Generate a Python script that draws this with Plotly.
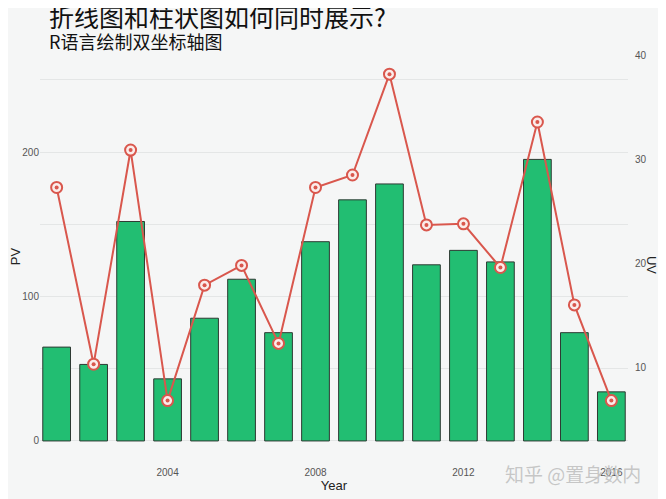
import plotly.graph_objects as go

# ---- data ----
years = [2001, 2002, 2003, 2004, 2005, 2006, 2007, 2008,
         2009, 2010, 2011, 2012, 2013, 2014, 2015, 2016]
pv = [65, 53, 152, 43, 85, 112, 75, 138, 167, 178, 122, 132, 124, 195, 75, 34]
uv = [27.3, 10.3, 30.9, 6.8, 17.9, 19.8, 12.3, 27.3, 28.5, 38.2, 23.7, 23.8,
      19.6, 33.6, 16.0, 6.8]
x_ticks = [2004, 2008, 2012, 2016]
pv_ticks = [0, 100, 200]
uv_ticks = [10, 20, 30, 40]

title_text = "折线图和柱状图如何同时展示?"
subtitle_text = "R语言绘制双坐标轴图"
watermark_text = "知乎 @置身数内"

# secondary-axis relation used in the original (PV = a*UV + b)
a, b = 7.2, -21.0
pv_range = [-12.5, 268]
uv_range = [(pv_range[0] - b) / a, (pv_range[1] - b) / a]

bar_color = "#22BE72"
red = "#D9574D"
bg = "#F5F6F6"
grid = "#E4E6E6"
tick_font = dict(family="Liberation Sans, Arial", size=10, color="#555555")
axis_title_font = dict(family="Liberation Sans, Arial", size=13, color="#222222")
cjk = "Noto Sans CJK SC"

fig = go.Figure()
fig.add_trace(go.Bar(
    x=years, y=pv, width=0.75, yaxis="y",
    marker=dict(color=bar_color, line=dict(color="#2E3A33", width=1)),
))
fig.add_trace(go.Scatter(
    x=years, y=uv, yaxis="y2", mode="lines+markers",
    line=dict(color=red, width=2),
    marker=dict(size=11, color="#FBECEA", line=dict(color=red, width=2)),
))
fig.add_trace(go.Scatter(
    x=years, y=uv, yaxis="y2", mode="markers",
    marker=dict(size=4, color=red),
))

fig.update_layout(
    width=666, height=499,
    paper_bgcolor=bg, plot_bgcolor=bg,
    margin=dict(l=32, r=46, t=46, b=48, autoexpand=False),
    showlegend=False,
    font=dict(family=cjk),
    xaxis=dict(
        range=[2000.55, 2016.45], tickvals=x_ticks,
        ticktext=[str(v) for v in x_ticks],
        showgrid=False, zeroline=False, showline=False, ticks="",
        tickfont=tick_font, ticklabelstandoff=6,
        title=dict(text="Year", font=axis_title_font, standoff=2),
        automargin=False,
    ),
    yaxis=dict(
        range=pv_range, tickvals=pv_ticks,
        showgrid=True, gridcolor=grid, gridwidth=1,
        minor=dict(tickvals=[50, 150, 250], showgrid=True, gridcolor=grid, gridwidth=1),
        zeroline=False, showline=False, ticks="",
        tickfont=tick_font,
        title=dict(text="PV", font=axis_title_font, standoff=6),
        automargin=False,
    ),
    yaxis2=dict(
        range=uv_range, tickvals=uv_ticks, overlaying="y", side="right",
        showgrid=False, zeroline=False, showline=False, ticks="",
        tickfont=tick_font, ticklabelstandoff=6, automargin=False,
    ),
    annotations=[
        dict(text=title_text, xref="paper", yref="paper", x=0.012, y=1.093,
             xanchor="left", yanchor="middle", showarrow=False,
             font=dict(family=cjk, size=25, color="#111111")),
        dict(text=subtitle_text, xref="paper", yref="paper", x=0.012, y=1.031,
             xanchor="left", yanchor="middle", showarrow=False,
             font=dict(family=cjk, size=18, color="#111111")),
        dict(text="UV", xref="paper", yref="paper", x=1.041, y=0.479,
             xanchor="center", yanchor="middle", showarrow=False, textangle=90,
             font=axis_title_font),
        dict(text=watermark_text, xref="paper", yref="paper", x=0.787, y=-0.037,
             xanchor="left", yanchor="middle", showarrow=False,
             font=dict(family=cjk, size=19, color="rgba(190,190,190,0.85)")),
    ],
)

fig.write_html("out.html")
